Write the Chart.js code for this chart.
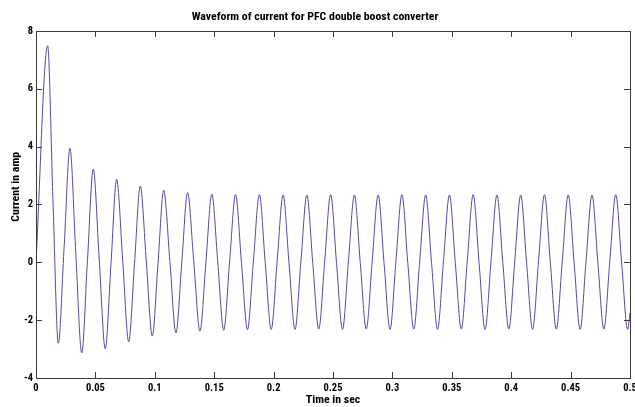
<!DOCTYPE html>
<html>
<head>
<meta charset="utf-8">
<title>Waveform of current for PFC double boost converter</title>
<script src="https://cdn.jsdelivr.net/npm/chart.js@4.4.1/dist/chart.umd.min.js"></script>
<style>
  html, body { margin: 0; padding: 0; background: #fff; }
  #wrap { width: 635px; height: 407px; }
</style>
</head>
<body>
<div id="wrap"><canvas id="waveChart" width="635" height="407"></canvas></div>
<script>
const FONT = "Roboto, 'Liberation Sans', Arial, sans-serif";
const WEIGHT = 'bold condensed'; // condensed face, close to the narrow MATLAB export font

// Time (s) and current (A): start, peaks, mid crossings, troughs
const timeSec = [
  0, 0.0098, 0.0143, 0.0188, 0.0237, 0.0286, 0.0334, 0.0385,
  0.0433, 0.0482, 0.0532, 0.0583, 0.0631, 0.0679, 0.0730, 0.0780,
  0.0829, 0.0878, 0.0928, 0.0979, 0.1027, 0.1075, 0.1127, 0.1178,
  0.1227, 0.1276, 0.1328, 0.1380, 0.1430, 0.1480, 0.1530, 0.1580,
  0.163, 0.168, 0.173, 0.178,
  0.183, 0.188, 0.193, 0.198,
  0.203, 0.208, 0.213, 0.218,
  0.223, 0.228, 0.233, 0.238,
  0.243, 0.248, 0.253, 0.258,
  0.263, 0.268, 0.273, 0.278,
  0.283, 0.288, 0.293, 0.298,
  0.303, 0.308, 0.313, 0.318,
  0.323, 0.328, 0.333, 0.338,
  0.343, 0.348, 0.353, 0.358,
  0.363, 0.368, 0.373, 0.378,
  0.383, 0.388, 0.393, 0.398,
  0.403, 0.408, 0.413, 0.418,
  0.423, 0.428, 0.433, 0.438,
  0.443, 0.448, 0.453, 0.458,
  0.463, 0.468, 0.473, 0.478,
  0.483, 0.488, 0.493, 0.498,
  0.500
];
const currentAmp = [
  0, 7.49, 2.10, -2.80, 0.55, 3.94, 0.40, -3.13,
  0.05, 3.22, 0.12, -2.99, -0.06, 2.87, 0.06, -2.75,
  -0.05, 2.64, 0.05, -2.55, -0.03, 2.49, 0.03, -2.44,
  -0.02, 2.41, 0.02, -2.38, -0.01, 2.36, 0.01, -2.35,
  0.04, 2.34, -0.04, -2.33,
  0.04, 2.34, -0.04, -2.32,
  0.04, 2.33, -0.04, -2.32,
  0.04, 2.33, -0.04, -2.31,
  0.04, 2.34, -0.04, -2.32,
  0.04, 2.33, -0.04, -2.31,
  0.04, 2.33, -0.04, -2.32,
  0.04, 2.34, -0.04, -2.31,
  0.04, 2.33, -0.04, -2.32,
  0.04, 2.33, -0.04, -2.31,
  0.04, 2.34, -0.04, -2.32,
  0.04, 2.33, -0.04, -2.31,
  0.04, 2.33, -0.04, -2.32,
  0.04, 2.34, -0.04, -2.31,
  0.04, 2.33, -0.04, -2.32,
  0.04, 2.33, -0.04, -2.31,
  0.04, 2.34, -0.04, -2.32,
  -1.75
];
const xTicks = [0, 0.05, 0.1, 0.15, 0.2, 0.25, 0.3, 0.35, 0.4, 0.45, 0.5];
const yTicks = [-4, -2, 0, 2, 4, 6, 8];

// MATLAB style box with ticks pointing inwards on all four sides
const matlabFrame = {
  id: 'matlabFrame',
  afterDatasetsDraw(chart) {
    const { ctx, chartArea: a, scales: { x, y } } = chart;
    const len = 6;
    ctx.save();
    ctx.strokeStyle = '#3a3a3a';
    ctx.lineWidth = 1;
    ctx.beginPath();
    x.ticks.forEach(t => {
      const px = Math.round(x.getPixelForValue(t.value)) + 0.5;
      ctx.moveTo(px, a.bottom); ctx.lineTo(px, a.bottom - len);
      ctx.moveTo(px, a.top); ctx.lineTo(px, a.top + len);
    });
    y.ticks.forEach(t => {
      const py = Math.round(y.getPixelForValue(t.value)) + 0.5;
      ctx.moveTo(a.left, py); ctx.lineTo(a.left + len, py);
      ctx.moveTo(a.right, py); ctx.lineTo(a.right - len, py);
    });
    ctx.stroke();
    ctx.strokeRect(Math.round(a.left) + 0.5, Math.round(a.top) + 0.5,
      Math.round(a.right - a.left), Math.round(a.bottom - a.top));
    ctx.restore();
  }
};

new Chart(document.getElementById('waveChart'), {
  type: 'line',
  data: {
    datasets: [{
      label: 'Current',
      data: timeSec.map((t, i) => ({ x: t, y: currentAmp[i] })),
      borderColor: '#4c4ca6',
      borderWidth: 1,
      pointRadius: 0,
      cubicInterpolationMode: 'monotone',
      fill: false
    }]
  },
  options: {
    responsive: false,
    animation: false,
    layout: { padding: { left: 0, right: 5, top: 0, bottom: 0 } },
    plugins: {
      legend: { display: false },
      tooltip: { enabled: false },
      title: {
        display: true,
        text: 'Waveform of current for PFC double boost converter',
        color: '#000',
        font: { family: FONT, size: 11.8, weight: WEIGHT, lineHeight: 1.2 },
        padding: { top: 10, bottom: 6.8 }
      }
    },
    scales: {
      x: {
        type: 'linear',
        min: 0,
        max: 0.5,
        afterBuildTicks: s => { s.ticks = xTicks.map(v => ({ value: v })); },
        afterFit: s => { s.height = 29; s.paddingLeft = 0; s.paddingRight = 0; },
        grid: { display: false, drawTicks: false },
        border: { display: false },
        ticks: {
          padding: 4,
          color: '#000',
          maxRotation: 0,
          autoSkip: false,
          font: { family: FONT, size: 10.5, weight: WEIGHT },
          callback: v => String(+v.toFixed(2))
        },
        title: {
          display: true,
          text: 'Time in sec',
          color: '#000',
          font: { family: FONT, size: 11.8, weight: WEIGHT, lineHeight: 1.2 },
          padding: { top: 0, bottom: 0 }
        }
      },
      y: {
        type: 'linear',
        min: -4,
        max: 8,
        afterBuildTicks: s => { s.ticks = yTicks.map(v => ({ value: v })); },
        afterFit: s => { s.width = 36; s.paddingTop = 0; s.paddingBottom = 0; },
        grid: { display: false, drawTicks: false },
        border: { display: false },
        ticks: {
          padding: 3,
          color: '#000',
          font: { family: FONT, size: 10.5, weight: WEIGHT }
        },
        title: {
          display: true,
          // leading spaces keep the label a little above the axis centre, as in the original
          text: '             Current in amp',
          color: '#000',
          font: { family: FONT, size: 11.8, weight: WEIGHT, lineHeight: 1.2 },
          padding: { top: 9, bottom: 0 }
        }
      }
    }
  },
  plugins: [matlabFrame]
});
</script>
</body>
</html>
